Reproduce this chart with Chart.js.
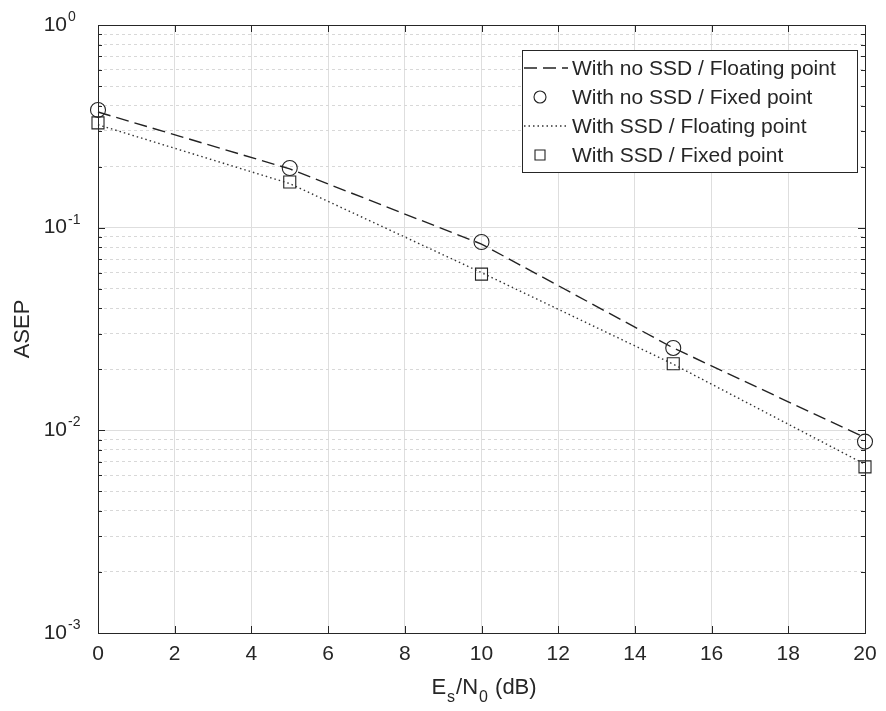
<!DOCTYPE html>
<html>
<head>
<meta charset="utf-8">
<script src="https://cdn.jsdelivr.net/npm/chart.js@4"></script>
<style>
html,body{margin:0;padding:0;background:#fff;}
#wrap{width:886px;height:711px;}
</style>
</head>
<body>
<div id="wrap"><canvas id="c" width="886" height="711"></canvas></div>
<script>
// ---- data ----
const snrDb = [0, 5, 10, 15, 20];
const noSsdFloating = [0.372, 0.195, 0.083, 0.0255, 0.0092];
const noSsdFixed    = [0.381, 0.197, 0.085, 0.0255, 0.0088];
const ssdFloating   = [0.322, 0.165, 0.060, 0.0212, 0.0068];
const ssdFixed      = [0.329, 0.168, 0.059, 0.0213, 0.0066];
const xTicks = [0, 2, 4, 6, 8, 10, 12, 14, 16, 18, 20];
const yMajorTicks = [0.001, 0.01, 0.1, 1];
const yTickBase = '10';
const yTickExponents = ['-3', '-2', '-1', '0'];
const seriesLabels = ['With no SSD / Floating point', 'With no SSD / Fixed point',
                      'With SSD / Floating point', 'With SSD / Fixed point'];
const xTitleParts = ['E', 's', '/N', '0', ' (dB)'];
const yTitle = 'ASEP';

const yMinorTicks = [];
for (let e = -3; e < 0; e++) for (let m = 2; m <= 9; m++) yMinorTicks.push(m * Math.pow(10, e));

const pts = arr => snrDb.map((x, i) => ({x: x, y: arr[i]}));
const FONT = '"Liberation Sans", Arial, Helvetica, sans-serif';
const TXT = '#262626';

const boxPlugin = {
  id: 'boxPlugin',
  afterDraw(chart) {
    const ctx = chart.ctx, a = chart.chartArea;
    const xs = chart.scales.x, ys = chart.scales.y;
    ctx.save();
    ctx.strokeStyle = '#262626';
    ctx.lineWidth = 1;
    ctx.strokeRect(Math.round(a.left) + 0.5, Math.round(a.top) + 0.5,
                   Math.round(a.right - a.left), Math.round(a.bottom - a.top));
    ctx.beginPath();
    xTicks.forEach(v => {
      const px = Math.round(xs.getPixelForValue(v)) + 0.5;
      ctx.moveTo(px, a.bottom); ctx.lineTo(px, a.bottom - 7);
      ctx.moveTo(px, a.top); ctx.lineTo(px, a.top + 7);
    });
    yMajorTicks.forEach(v => {
      const py = Math.round(ys.getPixelForValue(v)) + 0.5;
      ctx.moveTo(a.left, py); ctx.lineTo(a.left + 7, py);
      ctx.moveTo(a.right, py); ctx.lineTo(a.right - 7, py);
    });
    yMinorTicks.forEach(v => {
      const py = Math.round(ys.getPixelForValue(v)) + 0.5;
      ctx.moveTo(a.left, py); ctx.lineTo(a.left + 4, py);
      ctx.moveTo(a.right, py); ctx.lineTo(a.right - 4, py);
    });
    ctx.stroke();

    // exponents of y tick labels
    ctx.fillStyle = TXT;
    ctx.textBaseline = 'alphabetic';
    ctx.textAlign = 'left';
    ctx.font = '14px ' + FONT;
    yMajorTicks.forEach((v, i) => {
      const py = ys.getPixelForValue(v);
      ctx.fillText(yTickExponents[i], 68, py - 4);
    });

    // x axis title with subscripts
    const big = '22px ' + FONT, small = '16px ' + FONT;
    const parts = [[xTitleParts[0], big, 0], [xTitleParts[1], small, 8], [xTitleParts[2], big, 0],
                   [xTitleParts[3], small, 8], [xTitleParts[4], big, 0]];
    let w = 0;
    parts.forEach(p => { ctx.font = p[1]; w += ctx.measureText(p[0]).width + 1; });
    let x = (a.left + a.right) / 2 + 3 - w / 2;
    const base = 694;
    parts.forEach(p => { ctx.font = p[1]; ctx.fillText(p[0], x, base + p[2]); x += ctx.measureText(p[0]).width + 1; });

    // legend
    const L = {left: a.right - 343, top: a.top + 25, right: a.right - 8, rowH: 29};
    const n = chart.data.datasets.length;
    ctx.fillStyle = '#fff';
    ctx.fillRect(L.left, L.top, L.right - L.left, n * L.rowH + 6);
    ctx.strokeStyle = '#262626';
    ctx.lineWidth = 1;
    ctx.strokeRect(L.left + 0.5, L.top + 0.5, L.right - L.left, n * L.rowH + 6);
    ctx.font = '21px ' + FONT;
    ctx.textBaseline = 'middle';
    chart.data.datasets.forEach((ds, i) => {
      const cy = L.top + 18 + i * L.rowH;
      ctx.strokeStyle = ds.borderColor;
      ctx.lineWidth = ds.borderWidth;
      if (ds.showLine) {
        ctx.setLineDash(ds.borderDash || []);
        ctx.beginPath(); ctx.moveTo(L.left + 2, cy); ctx.lineTo(L.left + 46, cy); ctx.stroke();
        ctx.setLineDash([]);
      } else {
        const mx = L.left + 18;
        ctx.beginPath();
        if (ds.pointStyle === 'circle') ctx.arc(mx, cy, 6, 0, Math.PI * 2);
        else ctx.rect(mx - 5, cy - 5, 10, 10);
        ctx.stroke();
      }
      ctx.fillStyle = TXT;
      ctx.fillText(ds.label, L.left + 50, cy + 1);
    });
    ctx.restore();
  }
};

new Chart(document.getElementById('c'), {
  type: 'scatter',
  data: {
    datasets: [
      {label: seriesLabels[0], data: pts(noSsdFloating), showLine: true, borderColor: '#222',
       borderWidth: 1.4, borderDash: [13, 6], pointRadius: 0, clip: false},
      {label: seriesLabels[1], data: pts(noSsdFixed), showLine: false, borderColor: '#222',
       backgroundColor: 'rgba(0,0,0,0)', borderWidth: 1.1, pointStyle: 'circle', pointRadius: 7.5, clip: false},
      {label: seriesLabels[2], data: pts(ssdFloating), showLine: true, borderColor: '#333',
       borderWidth: 1.4, borderDash: [1.5, 3], pointRadius: 0, clip: false},
      {label: seriesLabels[3], data: pts(ssdFixed), showLine: false, borderColor: '#222',
       backgroundColor: 'rgba(0,0,0,0)', borderWidth: 1.1, pointStyle: 'rect', pointRadius: 8.5, clip: false}
    ]
  },
  options: {
    responsive: false,
    animation: false,
    devicePixelRatio: 1,
    layout: {padding: {left: 0, right: 21, top: 25, bottom: 0}},
    plugins: {legend: {display: false}, tooltip: {enabled: false}},
    scales: {
      x: {
        type: 'linear', min: 0, max: 20,
        afterBuildTicks: s => { s.ticks = xTicks.map(v => ({value: v})); },
        afterFit: s => { s.height = 78; },
        ticks: {font: {size: 21, family: FONT}, color: TXT, padding: 9, maxRotation: 0},
        grid: {color: '#dedede', lineWidth: 1, drawTicks: false},
        border: {display: false}
      },
      y: {
        type: 'logarithmic', min: 0.001, max: 1, position: 'left', weight: 1,
        afterBuildTicks: s => { s.ticks = yMajorTicks.map(v => ({value: v})); },
        afterFit: s => { s.width = 98; },
        ticks: {font: {size: 21, family: FONT}, color: TXT, padding: 3,
                callback: () => yTickBase},
        grid: {color: '#dedede', lineWidth: 1, drawTicks: true, tickLength: 28, tickColor: 'rgba(0,0,0,0)'},
        border: {display: false},
        title: {display: true, text: yTitle, font: {size: 22, family: FONT}, color: TXT, padding: {top: 10, bottom: 0}}
      },
      yMinor: {
        type: 'logarithmic', min: 0.001, max: 1, position: 'left', weight: 0,
        afterBuildTicks: s => { s.ticks = yMinorTicks.map(v => ({value: v})); },
        afterFit: s => { s.width = 0; },
        ticks: {display: false},
        grid: {color: '#d8d8d8', lineWidth: 1, drawTicks: false},
        border: {display: false, dash: [3, 3]}
      }
    }
  },
  plugins: [boxPlugin]
});
</script>
</body>
</html>
